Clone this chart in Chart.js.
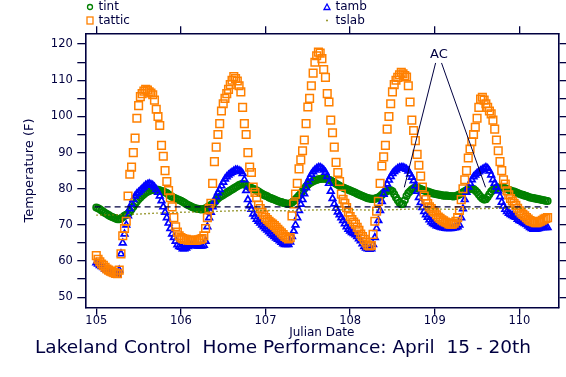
<!DOCTYPE html>
<html>
<head>
<meta charset="utf-8">
<title>Lakeland Control Home Performance</title>
<script src="https://cdn.jsdelivr.net/npm/chart.js@4.4.1/dist/chart.umd.min.js"></script>
<style>
  html, body { margin: 0; padding: 0; background: #ffffff; }
  #wrap { width: 566px; height: 377px; }
</style>
</head>
<body>
<div id="wrap"><canvas id="tempChart" width="566" height="377"></canvas></div>
<script>
// Readings start at Julian day 105 and come every half hour
const startDay = 105;
const stepDay = 1 / 48;

// Interior temperature (F)
const tint = [
  74.8, 74.6, 74.3, 74.0, 73.6, 73.3, 73.0, 72.7, 72.4, 72.2, 72.0, 71.8,
  71.6, 71.6, 71.8, 72.1, 72.5, 72.8, 73.1, 73.6, 74.3, 75.0, 75.8, 76.5,
  77.1, 77.6, 78.1, 78.5, 78.9, 79.2, 79.4, 79.6, 79.7, 79.8, 79.8, 79.7,
  79.6, 79.4, 79.2, 79.0, 78.8, 78.4, 78.1, 77.8, 77.5, 77.3, 77.1, 76.9,
  76.7, 76.4, 76.1, 75.8, 75.5, 75.3, 75.0, 74.8, 74.6, 74.5, 74.4, 74.3,
  74.3, 74.4, 74.6, 74.9, 75.2, 75.5, 75.8, 76.3, 76.8, 77.3, 77.7, 78.0,
  78.3, 78.6, 78.9, 79.2, 79.5, 79.8, 80.1, 80.4, 80.7, 81.0, 81.2, 81.3,
  81.2, 81.0, 80.7, 80.4, 80.2, 80.0, 79.8, 79.5, 79.2, 78.9, 78.6, 78.3,
  78.1, 77.9, 77.6, 77.4, 77.2, 77.0, 76.8, 76.6, 76.4, 76.3, 76.1, 76.0,
  75.9, 75.8, 75.9, 76.2, 76.6, 77.1, 77.6, 78.1, 78.6, 79.3, 80.0, 80.6,
  81.1, 81.5, 81.8, 82.1, 82.3, 82.5, 82.6, 82.7, 82.8, 82.8, 82.8, 82.7,
  82.5, 82.3, 82.0, 81.7, 81.4, 81.1, 80.8, 80.5, 80.3, 80.1, 79.9, 79.7,
  79.5, 79.3, 79.1, 78.9, 78.6, 78.4, 78.2, 78.0, 77.8, 77.6, 77.4, 77.3,
  77.2, 77.2, 77.2, 77.4, 77.6, 77.9, 78.3, 78.8, 79.1, 79.4, 79.6, 79.6,
  79.3, 78.5, 77.6, 76.8, 76.1, 75.7, 75.8, 76.8, 78.0, 78.8, 79.3, 79.8,
  80.1, 80.3, 80.3, 80.1, 79.9, 79.7, 79.5, 79.3, 79.2, 79.0, 78.9, 78.7,
  78.6, 78.5, 78.4, 78.3, 78.2, 78.1, 78.1, 78.1, 78.0, 78.0, 77.9, 77.9,
  78.0, 78.2, 78.4, 78.7, 79.0, 79.3, 79.6, 79.8, 79.9, 80.0, 79.9, 79.5,
  79.0, 78.4, 77.8, 77.3, 77.0, 77.1, 77.7, 78.5, 79.2, 79.7, 80.0, 80.2,
  80.3, 80.4, 80.4, 80.3, 80.1, 79.9, 79.7, 79.5, 79.3, 79.2, 79.0, 78.8,
  78.6, 78.4, 78.3, 78.1, 78.0, 77.8, 77.6, 77.5, 77.4, 77.3, 77.2, 77.1,
  77.0, 76.9, 76.8, 76.7, 76.6
];

// Ambient temperature (F)
const tamb = [
  59.5, 59.2, 58.8, 58.5, 58.2, 57.8, 57.5, 57.2, 57.0, 56.8, 56.5, 56.3,
  56.2, 57.5, 62.0, 65.0, 67.5, 70.0, 72.5, 74.5, 75.8, 77.0, 78.0, 78.6,
  79.0, 79.5, 80.0, 80.5, 81.0, 81.2, 81.4, 81.2, 81.0, 80.5, 79.8, 79.0,
  78.0, 76.7, 75.0, 73.5, 72.0, 70.5, 69.0, 67.5, 66.5, 65.5, 64.5, 64.0,
  63.8, 63.4, 63.4, 63.6, 64.0, 64.4, 64.5, 64.4, 64.3, 64.2, 64.2, 64.2,
  64.2, 64.4, 65.5, 69.5, 72.0, 73.5, 75.0, 76.5, 77.8, 78.9, 79.8, 80.8,
  81.8, 82.7, 83.3, 83.8, 84.2, 84.6, 84.9, 85.2, 85.2, 85.0, 84.8, 84.2,
  82.5, 79.5, 77.0, 75.3, 74.3, 73.0, 72.3, 71.6, 71.0, 70.5, 70.0, 69.5,
  69.0, 68.6, 68.1, 67.6, 67.2, 66.8, 66.4, 66.0, 65.6, 65.2, 64.8, 64.6,
  64.6, 64.6, 65.3, 66.8, 68.3, 70.0, 72.0, 74.0, 75.7, 77.0, 78.6, 80.3,
  82.0, 83.0, 84.0, 84.7, 85.2, 85.6, 85.9, 85.9, 85.6, 85.2, 84.6, 83.4,
  81.5, 79.3, 77.3, 75.8, 74.6, 73.6, 72.8, 72.0, 71.2, 70.3, 69.5, 68.8,
  68.3, 67.9, 67.6, 67.3, 66.8, 66.2, 65.6, 64.8, 64.0, 63.6, 63.4, 63.3,
  63.4, 64.6, 66.5, 69.0, 71.2, 74.0, 76.5, 78.5, 80.0, 81.3, 82.4, 83.4,
  84.2, 84.8, 85.2, 85.6, 85.8, 85.9, 85.9, 85.7, 85.4, 84.9, 84.1, 83.2,
  82.2, 80.8, 79.3, 77.6, 76.2, 74.8, 73.7, 72.8, 72.1, 71.4, 70.8, 70.4,
  70.1, 69.8, 69.6, 69.4, 69.3, 69.2, 69.1, 69.0, 69.0, 69.0, 69.1, 69.2,
  69.3, 69.5, 70.0, 72.0, 74.5, 77.0, 79.0, 80.5, 81.5, 82.5, 83.3, 83.8,
  84.3, 84.7, 85.0, 85.3, 85.6, 85.9, 85.6, 84.9, 83.8, 82.5, 81.5, 80.5,
  79.4, 77.8, 76.3, 75.2, 74.3, 73.7, 73.2, 72.9, 72.6, 72.3, 72.1, 71.6,
  71.2, 71.0, 70.7, 70.4, 70.1, 69.7, 69.3, 69.0, 68.8, 68.8, 68.9, 69.0,
  69.2, 69.3, 69.3, 69.3, 69.3
];

// Attic temperature (F)
const tattic = [
  61.5, 60.5, 59.8, 59.2, 58.8, 58.3, 57.8, 57.5, 57.2, 57.0, 56.8, 56.6,
  56.5, 57.5, 62.0, 67.0, 69.0, 71.0, 78.0, 84.0, 86.0, 90.0, 94.0, 99.5,
  103.0, 105.5, 106.3, 107.0, 107.5, 107.3, 106.8, 106.5, 106.0, 104.5, 102.0, 100.0,
  97.5, 92.0, 89.0, 85.0, 82.0, 79.5, 77.5, 75.0, 72.0, 69.5, 68.0, 67.0,
  66.5, 66.2, 66.0, 66.0, 65.8, 65.8, 65.7, 65.7, 65.7, 65.8, 65.9, 66.0,
  66.2, 67.0, 69.0, 72.0, 74.5, 76.0, 81.5, 87.5, 91.5, 95.0, 98.0, 101.5,
  103.5, 105.0, 106.3, 107.5, 108.8, 110.0, 111.0, 110.5, 109.8, 108.5, 106.8, 102.5,
  98.0, 95.0, 90.0, 86.0, 84.5, 80.5, 79.0, 77.5, 75.5, 74.5, 73.5, 72.8,
  72.0, 71.5, 71.0, 70.6, 70.2, 69.8, 69.3, 68.8, 68.3, 67.8, 67.3, 66.8,
  66.5, 66.1, 66.5, 72.5, 75.8, 78.5, 81.5, 85.5, 88.0, 90.5, 93.5, 98.0,
  102.6, 105.0, 108.5, 112.0, 115.0, 116.8, 117.8, 117.5, 116.0, 113.0, 110.8, 106.3,
  104.0, 99.0, 95.5, 91.5, 87.3, 84.5, 82.0, 78.5, 77.1, 76.0, 74.8, 73.5,
  72.3, 71.5, 70.8, 70.2, 69.3, 68.5, 67.5, 66.8, 66.0, 65.2, 64.4, 64.2,
  64.3, 67.4, 71.0, 73.8, 76.5, 81.5, 86.3, 88.8, 92.0, 96.5, 100.0, 103.5,
  106.8, 108.8, 110.0, 110.8, 111.5, 112.2, 111.8, 111.3, 110.9, 108.5, 104.0, 99.0,
  96.1, 93.3, 89.5, 86.5, 83.5, 80.5, 78.0, 77.0, 75.9, 75.0, 74.5, 73.9,
  73.5, 72.8, 72.2, 71.8, 71.4, 71.1, 70.8, 70.6, 70.3, 70.2, 70.2, 70.5,
  71.0, 72.0, 74.0, 77.0, 80.0, 82.5, 85.0, 88.5, 91.0, 93.0, 95.0, 97.0,
  99.5, 102.5, 104.8, 105.3, 104.5, 103.5, 102.5, 101.5, 100.7, 99.0, 96.5, 93.5,
  90.5, 87.5, 85.0, 82.5, 81.3, 79.4, 78.3, 77.3, 76.6, 76.0, 75.4, 74.6,
  73.9, 73.3, 72.9, 72.5, 72.0, 71.6, 71.2, 71.0, 70.8, 70.6, 70.6, 70.8,
  71.0, 71.3, 71.6, 71.8, 72.0
];

// Slab temperature (F), read every quarter day
const slabDays = [105.0, 105.25, 105.5, 105.75, 106.0, 106.25, 106.5, 106.75, 107.0, 107.25, 107.5,
  107.75, 108.0, 108.25, 108.5, 108.75, 109.0, 109.25, 109.5, 109.75, 110.0, 110.28];
const tslab = [72.7, 72.8, 73.0, 73.3, 73.5, 73.6, 73.8, 74.0, 74.0, 73.9, 74.1,
  74.2, 74.2, 74.1, 74.2, 74.4, 74.4, 74.3, 74.5, 74.6, 74.6, 74.6];

// Thermostat setpoint line
const setpoint = 75;
const setpointDays = [104.98, 110.34];

// "AC" annotation: label and two pointer lines [day, temp]
const acText = 'AC';
const acLabel = [109.05, 117.2];
const acLeft = [[109.01, 114.8], [108.64, 80.4]];
const acRight = [[109.08, 114.8], [109.60, 80.4]];

// Axis ranges
const xMin = 104.87, xMax = 110.46, xStep = 1;
const yMin = 47.1, yMax = 123, yStep = 5, yLabelStep = 10;

const navy = '#000040';
const face = 'DejaVu Sans';

function halfHourly(values) {
  return values.map((v, i) => ({ x: startDay + i * stepDay, y: v }));
}
function pairs(list) {
  return list.map(p => ({ x: p[0], y: p[1] }));
}

const legendItems = [
  { text: 'tint', marker: 'circle', color: '#008000', x: 90, y: 7 },
  { text: 'tattic', marker: 'square', color: '#ff8000', x: 90, y: 20.5 },
  { text: 'tamb', marker: 'triangle', color: '#0000ff', x: 327, y: 7 },
  { text: 'tslab', marker: 'dot', color: '#808000', x: 327, y: 20.5 }
];

// Two-column legend above the plot
const cornerLegend = {
  id: 'cornerLegend',
  afterDraw(chart) {
    const ctx = chart.ctx;
    ctx.save();
    ctx.lineWidth = 1.3;
    legendItems.forEach(item => {
      ctx.strokeStyle = item.color;
      ctx.fillStyle = item.color;
      ctx.beginPath();
      if (item.marker === 'circle') {
        ctx.arc(item.x, item.y, 2.5, 0, Math.PI * 2);
        ctx.stroke();
      } else if (item.marker === 'square') {
        ctx.strokeRect(item.x - 3, item.y - 3.5, 6, 7);
      } else if (item.marker === 'triangle') {
        ctx.moveTo(item.x, item.y - 3);
        ctx.lineTo(item.x + 3, item.y + 2.5);
        ctx.lineTo(item.x - 3, item.y + 2.5);
        ctx.closePath();
        ctx.stroke();
      } else {
        ctx.fillRect(item.x - 0.8, item.y - 0.8, 1.6, 1.6);
      }
      ctx.fillStyle = navy;
      ctx.font = '12px "' + face + '"';
      ctx.textAlign = 'left';
      ctx.textBaseline = 'middle';
      ctx.fillText(item.text, item.x + 8.5, item.y);
    });
    ctx.restore();
  }
};

// "AC" text at the top of the pointer lines
const acNote = {
  id: 'acNote',
  afterDatasetsDraw(chart) {
    const ctx = chart.ctx;
    const px = chart.scales.x.getPixelForValue(acLabel[0]);
    const py = chart.scales.y.getPixelForValue(acLabel[1]);
    ctx.save();
    ctx.fillStyle = navy;
    ctx.font = '13px "' + face + '"';
    ctx.textAlign = 'center';
    ctx.textBaseline = 'middle';
    ctx.fillText(acText, px, py);
    ctx.restore();
  }
};

const tickGrid = {
  display: true,
  drawOnChartArea: false,
  drawTicks: true,
  tickLength: 7,
  color: navy,
  lineWidth: 1.3
};
const frame = { display: true, color: navy, width: 1.6 };

const ctx = document.getElementById('tempChart').getContext('2d');
const chart = new Chart(ctx, {
  type: 'line',
  data: {
    datasets: [
      {
        label: 'setpoint',
        data: setpointDays.map(d => ({ x: d, y: setpoint })),
        borderColor: navy,
        borderWidth: 1.3,
        borderDash: [6, 4],
        pointRadius: 0
      },
      {
        label: 'tslab',
        data: slabDays.map((d, i) => ({ x: d, y: tslab[i] })),
        borderColor: '#808000',
        borderWidth: 1.4,
        borderDash: [1.5, 2.5],
        pointRadius: 0
      },
      {
        label: 'acLeft',
        data: pairs(acLeft),
        borderColor: navy,
        borderWidth: 1,
        pointRadius: 0
      },
      {
        label: 'acRight',
        data: pairs(acRight),
        borderColor: navy,
        borderWidth: 1,
        pointRadius: 0
      },
      {
        label: 'tattic',
        data: halfHourly(tattic),
        showLine: false,
        pointStyle: 'rect',
        pointRadius: 5.4,
        pointBorderWidth: 1.5,
        pointBorderColor: '#ff8000',
        pointBackgroundColor: 'rgba(0,0,0,0)',
        borderColor: '#ff8000'
      },
      {
        label: 'tamb',
        data: halfHourly(tamb),
        showLine: false,
        pointStyle: 'triangle',
        pointRadius: 3.8,
        pointBorderWidth: 1.7,
        pointBorderColor: '#0000ff',
        pointBackgroundColor: 'rgba(0,0,0,0)',
        borderColor: '#0000ff'
      },
      {
        label: 'tint',
        data: halfHourly(tint),
        showLine: false,
        pointStyle: 'circle',
        pointRadius: 3.2,
        pointBorderWidth: 1.7,
        pointBorderColor: '#008000',
        pointBackgroundColor: 'rgba(0,0,0,0)',
        borderColor: '#008000'
      }
    ]
  },
  options: {
    responsive: false,
    animation: false,
    events: [],
    layout: { padding: { top: 26.3, left: 0, right: 0, bottom: 0 } },
    plugins: {
      legend: { display: false },
      tooltip: { enabled: false },
      title: {
        display: true,
        position: 'bottom',
        text: 'Lakeland Control  Home Performance: April  15 - 20th',
        color: navy,
        font: { family: face, size: 18.5, weight: 'normal', lineHeight: 1 },
        padding: { top: 0, bottom: 19.5 }
      }
    },
    scales: {
      x: {
        type: 'linear',
        position: 'bottom',
        min: xMin,
        max: xMax,
        ticks: {
          stepSize: xStep, includeBounds: false, autoSkip: false, maxRotation: 0,
          padding: 0.5, color: navy,
          font: { family: face, size: 11.5, lineHeight: 1 }
        },
        grid: tickGrid,
        border: frame,
        title: {
          display: true, text: 'Julian Date', color: navy,
          font: { family: face, size: 12, lineHeight: 1 },
          padding: { top: 0, bottom: 0.3 }
        },
        afterFit: s => { s.height = 31.3; }
      },
      x2: {
        type: 'linear',
        position: 'top',
        min: xMin,
        max: xMax,
        ticks: { display: false, stepSize: xStep, includeBounds: false },
        grid: tickGrid,
        border: frame,
        afterFit: s => { s.height = 7; }
      },
      y: {
        type: 'linear',
        position: 'left',
        min: yMin,
        max: yMax,
        ticks: {
          stepSize: yStep, includeBounds: false, autoSkip: false,
          padding: 4.5, color: navy,
          font: { family: face, size: 11.5, lineHeight: 1 },
          callback: v => (v % yLabelStep === 0 ? v : '')
        },
        grid: { ...tickGrid, tickLength: 8 },
        border: frame,
        title: {
          display: true, text: 'Temperature (F)', color: navy,
          font: { family: face, size: 13, lineHeight: 1 },
          padding: { top: 23.5, bottom: 0 }
        },
        afterFit: s => { s.width = 85.3; }
      },
      y2: {
        type: 'linear',
        position: 'right',
        min: yMin,
        max: yMax,
        ticks: { display: false, stepSize: yStep, includeBounds: false },
        grid: { ...tickGrid, tickLength: 8 },
        border: frame,
        afterFit: s => { s.width = 7.7; }
      }
    }
  },
  plugins: [cornerLegend, acNote]
});
</script>
</body>
</html>
